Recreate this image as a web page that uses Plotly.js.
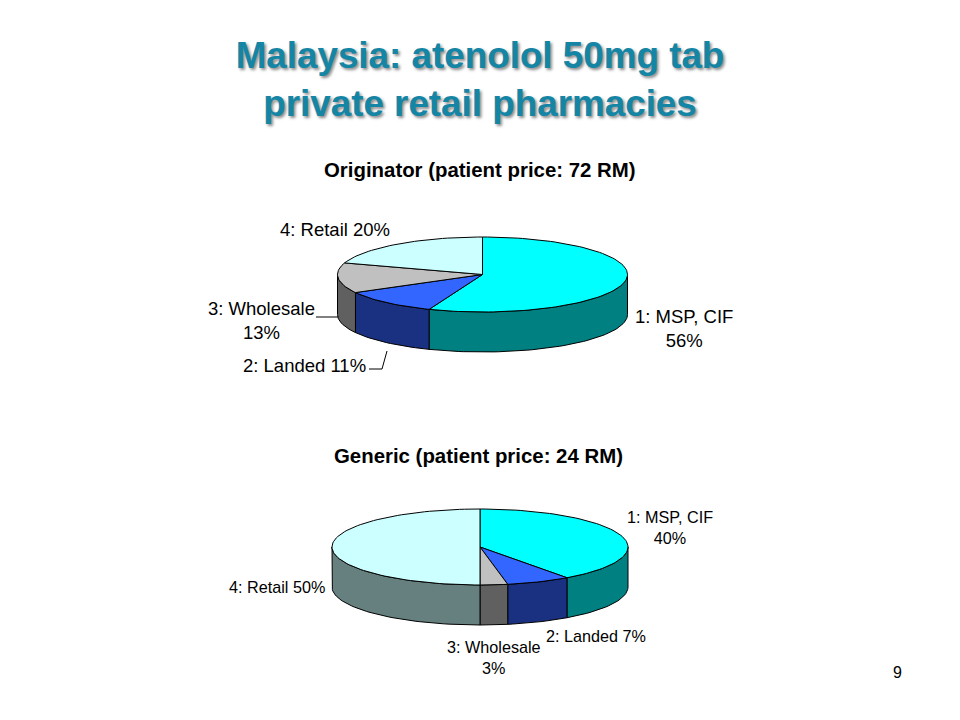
<!DOCTYPE html>
<html>
<head>
<meta charset="utf-8">
<script src="https://cdn.plot.ly/plotly-3.0.1.min.js"></script>
<style>html,body{margin:0;padding:0;background:#fff}#chart{width:960px;height:720px}</style>
</head>
<body>
<div id="chart"></div>
<script>
// ---- data ----
const categories = ["1: MSP, CIF", "2: Landed", "3: Wholesale", "4: Retail"];
const originatorShares = [56, 11, 13, 20];
const genericShares = [40, 7, 3, 50];
const originatorTitle = "Originator (patient price: 72 RM)";
const genericTitle = "Generic (patient price: 24 RM)";
const pageTitle = "Malaysia: atenolol 50mg tab<br>private retail pharmacies";
const pageNumber = "9";

// ---- styles and layout ----
const topColors = ["#00FFFF", "#3366FF", "#C0C0C0", "#CCFFFF"];
const sideColors = ["#008080", "#1A3080", "#606060", "#668080"];
const originatorPie = {cx: 482.5, cy: 274.5, rx: 145, ry: 37.5, depth: 40};
const genericPie = {cx: 480, cy: 547, rx: 148, ry: 38, depth: 40};

function rimPoint(p, deg, drop) {
  const a = deg * Math.PI / 180;
  return [p.cx + p.rx * Math.sin(a), p.cy - p.ry * Math.cos(a) + drop];
}
function arc(p, from, to, drop) {
  const steps = Math.max(2, Math.ceil(Math.abs(to - from) / 2));
  const pts = [];
  for (let i = 0; i <= steps; i++) pts.push(rimPoint(p, from + (to - from) * i / steps, drop));
  return pts;
}
function polyTrace(pts, color) {
  return {
    type: "scatter", mode: "lines", fill: "toself", fillcolor: color,
    x: pts.map(q => q[0]), y: pts.map(q => q[1]),
    line: {color: "#000000", width: 1}, hoverinfo: "skip", showlegend: false
  };
}
function pieTraces(shares, p) {
  const sides = [], tops = [];
  let start = 0;
  shares.forEach((s, i) => {
    const end = start + s * 3.6;
    const a = Math.max(start, 90), b = Math.min(end, 270);
    if (b > a) {
      const pts = arc(p, a, b, 0).concat(arc(p, b, a, p.depth));
      pts.push(pts[0]);
      sides.push(polyTrace(pts, sideColors[i]));
    }
    const pts = [[p.cx, p.cy]].concat(arc(p, start, end, 0));
    pts.push([p.cx, p.cy]);
    tops.push(polyTrace(pts, topColors[i]));
    start = end;
  });
  return sides.concat(tops);
}
function leader(xs, ys) {
  return {type: "scatter", mode: "lines", x: xs, y: ys,
    line: {color: "#000000", width: 1}, hoverinfo: "skip", showlegend: false};
}
function label(text, x, y, size, bold) {
  return {text: bold ? "<b>" + text + "</b>" : text, x: x, y: y, xref: "x", yref: "y",
    showarrow: false, xanchor: "center", yanchor: "middle", align: "center",
    font: {family: "Liberation Sans, Arial, sans-serif", size: size, color: "#000000"}};
}
function pct(i, shares, sep) { return categories[i] + sep + shares[i] + "%"; }

const traces = pieTraces(originatorShares, originatorPie)
  .concat(pieTraces(genericShares, genericPie))
  .concat([
    leader([316, 338], [317, 317]),
    leader([369, 382, 387], [369, 369, 351])
  ]);

const annotations = [
  label(originatorTitle, 479.5, 170, 20.4, true),
  label(genericTitle, 478.5, 456, 20.4, true),
  label(pct(3, originatorShares, " "), 335, 229, 18.5),
  label(pct(2, originatorShares, "<br>"), 261, 320.5, 18.5),
  label(pct(1, originatorShares, " "), 304.5, 365, 18.5),
  label(pct(0, originatorShares, "<br>"), 684, 328, 18.5),
  label(pct(0, genericShares, "<br>"), 670, 527, 16.2),
  label(pct(3, genericShares, " "), 277, 587, 16.2),
  label(pct(1, genericShares, " "), 596, 636, 16.2),
  label(pct(2, genericShares, "<br>"), 494, 657, 16.2),
  label(pageNumber, 897, 672, 16)
];

const layout = {
  width: 960, height: 720,
  margin: {l: 0, r: 0, t: 0, b: 0},
  paper_bgcolor: "#FFFFFF", plot_bgcolor: "#FFFFFF",
  showlegend: false,
  title: {
    text: "<b>" + pageTitle + "</b>",
    x: 0.5, xanchor: "center", xref: "paper",
    y: 1 - 68 / 720, yanchor: "top", yref: "container",
    font: {family: "Liberation Sans, Arial, sans-serif", size: 36.8, color: "#1485A5",
           shadow: "2px 2px 3px #8a8a8a"}
  },
  xaxis: {range: [0, 960], visible: false, fixedrange: true},
  yaxis: {range: [720, 0], visible: false, fixedrange: true},
  annotations: annotations
};
Plotly.newPlot("chart", traces, layout, {displayModeBar: false, staticPlot: true});
</script>
</body>
</html>
